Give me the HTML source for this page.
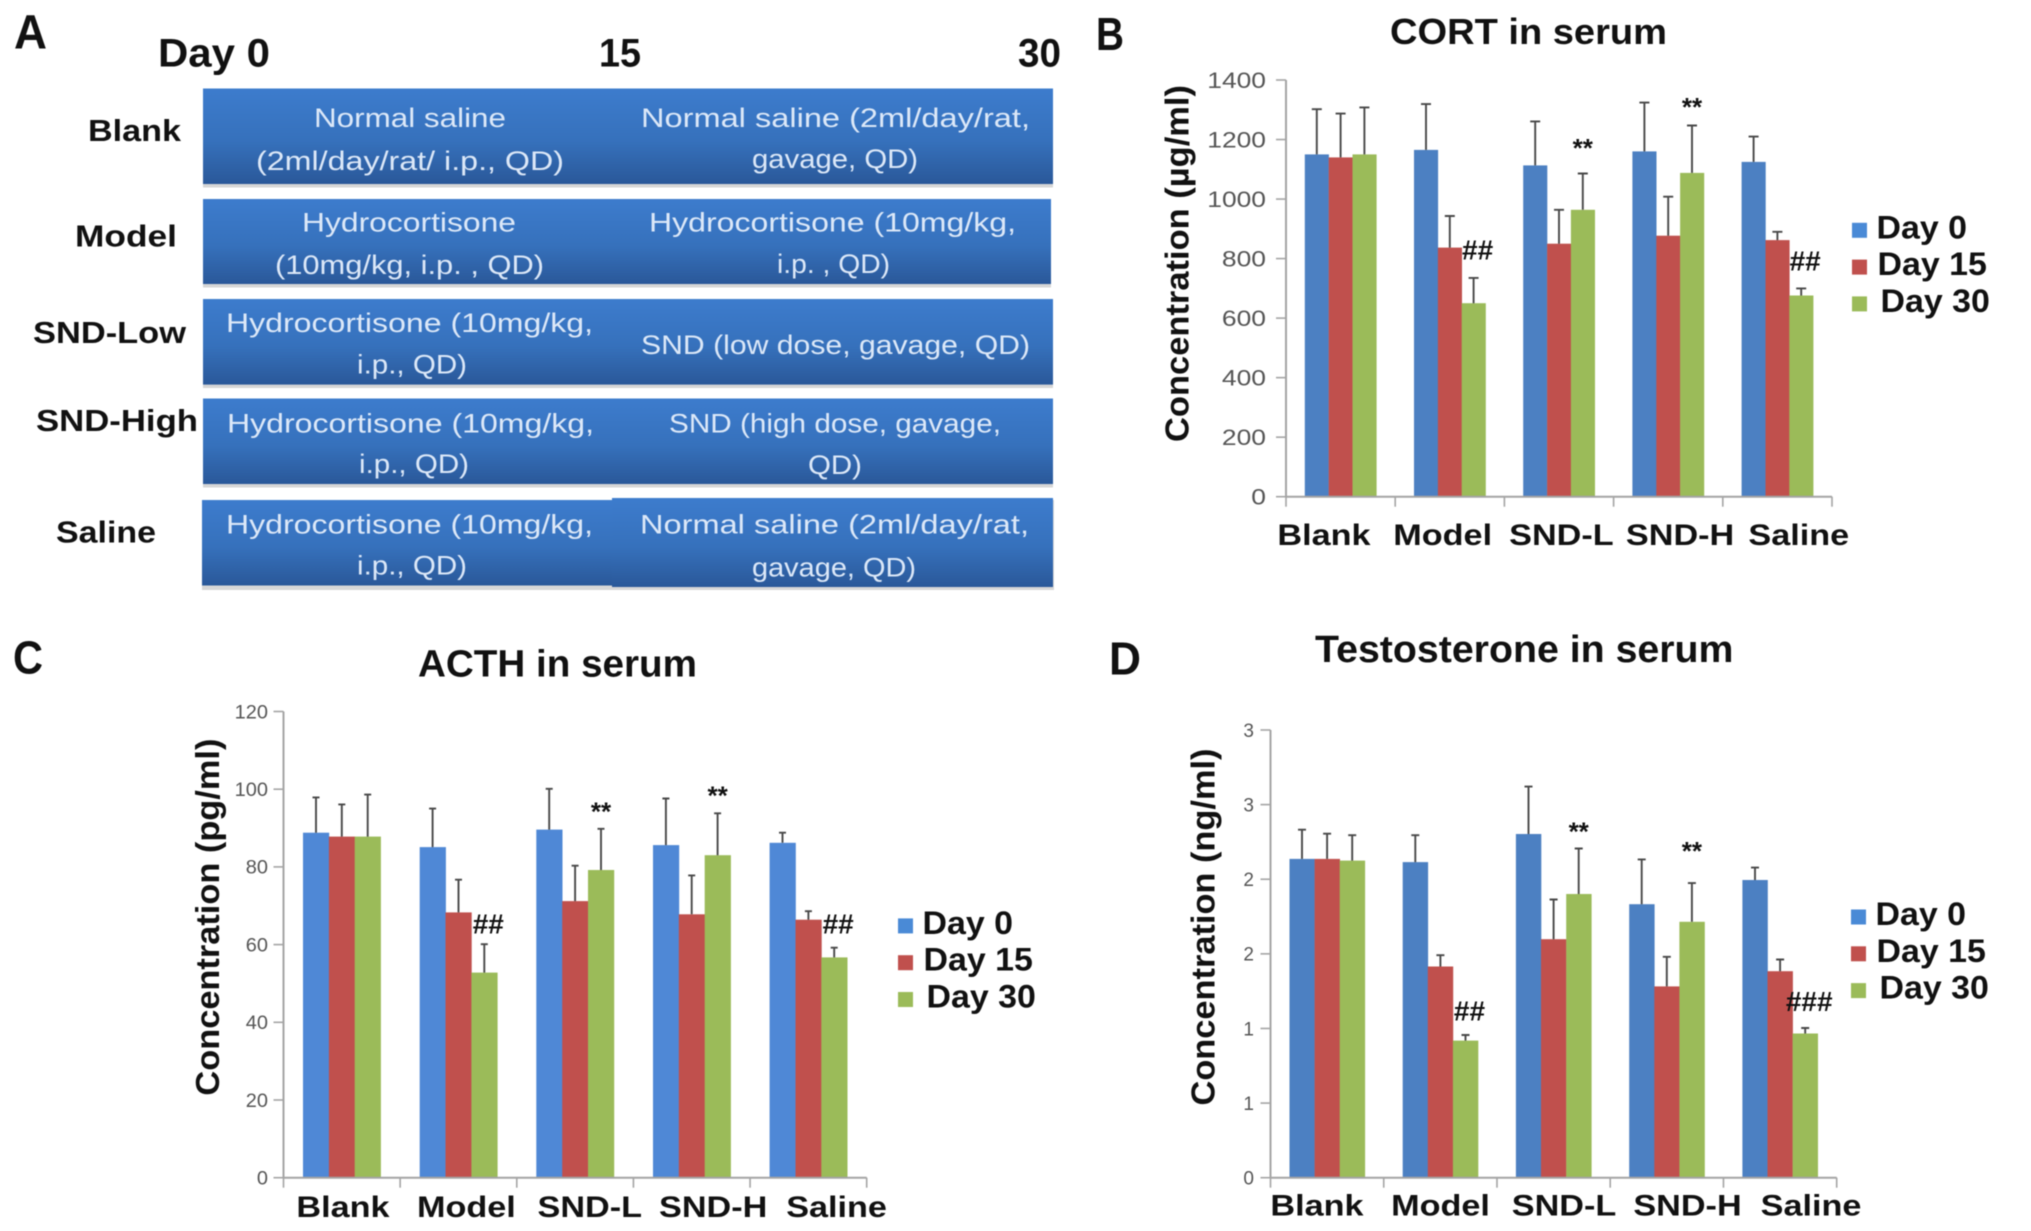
<!DOCTYPE html>
<html lang="en">
<head>
<meta charset="utf-8">
<title>Serum hormone figure</title>
<style>
html,body{margin:0;padding:0;background:#fff;width:2031px;height:1231px;overflow:hidden}
svg{display:block;filter:blur(0.6px)}
text{font-family:"Liberation Sans",sans-serif}
.b{font-weight:bold;fill:#111}
.cell{fill:#dce8f8;font-size:27px}
</style>
</head>
<body>
<svg id="fig" xmlns="http://www.w3.org/2000/svg" width="2031" height="1231" viewBox="0 0 2031 1231">
<defs>
<linearGradient id="cellGrad" x1="0" y1="0" x2="0" y2="1">
<stop offset="0" stop-color="#3d7ccd"/><stop offset="0.55" stop-color="#3671bc"/><stop offset="1" stop-color="#2a5899"/>
</linearGradient>
</defs>
<rect width="2031" height="1231" fill="#fff"/>

<g id="panel-a">
<text class="b" x="14" y="48.7" font-size="48" textLength="33" lengthAdjust="spacingAndGlyphs">A</text>
<text class="b" x="158" y="66.6" font-size="40" textLength="112" lengthAdjust="spacingAndGlyphs">Day 0</text>
<text class="b" x="599" y="66.6" font-size="40" textLength="42" lengthAdjust="spacingAndGlyphs">15</text>
<text class="b" x="1018" y="66.6" font-size="40" textLength="43" lengthAdjust="spacingAndGlyphs">30</text>

<text class="b" x="88" y="141" font-size="31" textLength="93" lengthAdjust="spacingAndGlyphs">Blank</text>
<text class="b" x="75" y="246.5" font-size="31" textLength="102" lengthAdjust="spacingAndGlyphs">Model</text>
<text class="b" x="33" y="343" font-size="31" textLength="153" lengthAdjust="spacingAndGlyphs">SND-Low</text>
<text class="b" x="36" y="431" font-size="31" textLength="162" lengthAdjust="spacingAndGlyphs">SND-High</text>
<text class="b" x="56" y="542.6" font-size="31" textLength="100" lengthAdjust="spacingAndGlyphs">Saline</text>

<g fill="#9a9a9a" opacity="0.4">
<rect x="203" y="88.5" width="850" height="99"/>
<rect x="203" y="199" width="848" height="88.5"/>
<rect x="203" y="299" width="850" height="89"/>
<rect x="203" y="398.5" width="850" height="89"/>
<rect x="202" y="500" width="852" height="90"/>
</g>
<rect x="203" y="88.5" width="413" height="95.5" fill="url(#cellGrad)"/>
<rect x="616" y="88.5" width="437" height="95.5" fill="url(#cellGrad)"/>
<rect x="203" y="199" width="410" height="85" fill="url(#cellGrad)"/>
<rect x="613" y="199" width="438" height="85" fill="url(#cellGrad)"/>
<rect x="203" y="299" width="414" height="85.6" fill="url(#cellGrad)"/>
<rect x="617" y="299" width="436" height="85.6" fill="url(#cellGrad)"/>
<rect x="203" y="398.5" width="416" height="85.5" fill="url(#cellGrad)"/>
<rect x="619" y="398.5" width="434" height="85.5" fill="url(#cellGrad)"/>
<rect x="202" y="500" width="410" height="85.5" fill="url(#cellGrad)"/>
<rect x="612" y="498" width="441" height="89" fill="url(#cellGrad)"/>

<text class="cell" x="314" y="127" textLength="192" lengthAdjust="spacingAndGlyphs">Normal saline</text>
<text class="cell" x="256" y="170" textLength="308" lengthAdjust="spacingAndGlyphs">(2ml/day/rat/ i.p., QD)</text>
<text class="cell" x="641" y="127" textLength="389" lengthAdjust="spacingAndGlyphs">Normal saline (2ml/day/rat,</text>
<text class="cell" x="752" y="168" textLength="166" lengthAdjust="spacingAndGlyphs">gavage, QD)</text>

<text class="cell" x="302" y="231.5" textLength="214" lengthAdjust="spacingAndGlyphs">Hydrocortisone</text>
<text class="cell" x="275" y="274" textLength="269" lengthAdjust="spacingAndGlyphs">(10mg/kg, i.p. , QD)</text>
<text class="cell" x="649" y="231.5" textLength="367" lengthAdjust="spacingAndGlyphs">Hydrocortisone (10mg/kg,</text>
<text class="cell" x="777" y="273" textLength="113" lengthAdjust="spacingAndGlyphs">i.p. , QD)</text>

<text class="cell" x="226" y="332" textLength="367" lengthAdjust="spacingAndGlyphs">Hydrocortisone (10mg/kg,</text>
<text class="cell" x="357" y="373.7" textLength="110" lengthAdjust="spacingAndGlyphs">i.p., QD)</text>
<text class="cell" x="641" y="354" textLength="389" lengthAdjust="spacingAndGlyphs">SND (low dose, gavage, QD)</text>

<text class="cell" x="227" y="432.3" textLength="367" lengthAdjust="spacingAndGlyphs">Hydrocortisone (10mg/kg,</text>
<text class="cell" x="359" y="473" textLength="110" lengthAdjust="spacingAndGlyphs">i.p., QD)</text>
<text class="cell" x="669" y="432.3" textLength="332" lengthAdjust="spacingAndGlyphs">SND (high dose, gavage,</text>
<text class="cell" x="808" y="474" textLength="54" lengthAdjust="spacingAndGlyphs">QD)</text>

<text class="cell" x="226" y="533.7" textLength="367" lengthAdjust="spacingAndGlyphs">Hydrocortisone (10mg/kg,</text>
<text class="cell" x="357" y="574.4" textLength="110" lengthAdjust="spacingAndGlyphs">i.p., QD)</text>
<text class="cell" x="640" y="533.7" textLength="389" lengthAdjust="spacingAndGlyphs">Normal saline (2ml/day/rat,</text>
<text class="cell" x="752" y="576.4" textLength="164" lengthAdjust="spacingAndGlyphs">gavage, QD)</text>
</g>
</svg>

<script>
// ---- shared categories and series ----
const categories = ["Blank", "Model", "SND-L", "SND-H", "Saline"];
const seriesNames = ["Day 0", "Day 15", "Day 30"];

// ---- CORT (panel B) ----
const cortDay0 = [1150, 1165, 1113, 1160, 1125];
const cortDay15 = [1140, 837, 850, 877, 862];
const cortDay30 = [1150, 650, 964, 1088, 676];
const cortDay0Upper = [1302, 1319, 1261, 1324, 1210];
const cortDay15Upper = [1287, 943, 964, 1008, 890];
const cortDay30Upper = [1308, 735, 1086, 1247, 700];
const cortTickValues = [0, 200, 400, 600, 800, 1000, 1200, 1400];
const cortTickLabels = ["0", "200", "400", "600", "800", "1000", "1200", "1400"];
const cortMarks = ["##", "**", "**", "##"];
const cortMarkGroups = [1, 2, 3, 4];
const cortMarkLevels = [797, 1142, 1279, 760];

// ---- ACTH (panel C) ----
const acthDay0 = [88.8, 85.1, 89.6, 85.6, 86.2];
const acthDay15 = [87.8, 68.3, 71.2, 67.8, 66.4];
const acthDay30 = [87.8, 52.8, 79.2, 83, 56.7];
const acthDay0Upper = [97.9, 95, 100.1, 97.6, 88.8];
const acthDay15Upper = [96.1, 76.7, 80.3, 77.8, 68.6];
const acthDay30Upper = [98.6, 60.1, 89.8, 93.8, 59.2];
const acthTickValues = [0, 20, 40, 60, 80, 100, 120];
const acthTickLabels = ["0", "20", "40", "60", "80", "100", "120"];
const acthMarks = ["##", "**", "**", "##"];
const acthMarkGroups = [1, 2, 3, 4];
const acthMarkLevels = [62.9, 92, 96, 62.9];

// ---- Testosterone (panel D) ----
const testoDay0 = [2.136, 2.115, 2.303, 1.833, 1.995];
const testoDay15 = [2.136, 1.415, 1.598, 1.282, 1.384];
const testoDay30 = [2.125, 0.919, 1.901, 1.715, 0.966];
const testoDay0Upper = [2.332, 2.295, 2.621, 2.133, 2.078];
const testoDay15Upper = [2.305, 1.491, 1.864, 1.48, 1.462];
const testoDay30Upper = [2.295, 0.956, 2.206, 1.974, 1.003];
const testoTickValues = [0, 0.5, 1, 1.5, 2, 2.5, 3];
const testoTickLabels = ["0", "1", "1", "2", "2", "3", "3"];
const testoMarks = ["##", "**", "**", "###"];
const testoMarkGroups = [1, 2, 3, 4];
const testoMarkLevels = [1.053, 2.26, 2.13, 1.117];

const redGreen = ["#c0504d", "#9bbb59"];
const svg = document.getElementById("fig");
const NS = "http://www.w3.org/2000/svg";

function add(parent, tag, attrs, content) {
  const node = document.createElementNS(NS, tag);
  for (const k in attrs) node.setAttribute(k, attrs[k]);
  if (content !== undefined) node.textContent = content;
  parent.appendChild(node);
  return node;
}
function stretch(t, factor) {
  t.setAttribute("textLength", (t.getComputedTextLength() * factor).toFixed(1));
  t.setAttribute("lengthAdjust", "spacingAndGlyphs");
}

function drawPanel(p) {
  const g = add(svg, "g", {});
  
  

  const y = v => p.y0 - (v / p.max) * (p.y0 - p.yTop);
  const band = (p.xEnd - p.x0) / categories.length;
  const barW = band * p.groupFrac / 3;
  const barX = (group, s) => p.x0 + band * (group + 0.5) + (s - 1.5) * barW;
  const colors = [p.blue, redGreen[0], redGreen[1]];
  const swatchColors = ["#4a8ad6", redGreen[0], redGreen[1]];

  // panel letter and title
  const letter = add(g, "text", { x: p.letterX, y: p.letterY, "font-size": 46, class: "b", textLength: p.letterW, lengthAdjust: "spacingAndGlyphs" }, p.letter);
  
  
  const title = add(g, "text", { x: p.titleX, y: p.titleY, "font-size": p.titleSize, class: "b", textLength: p.titleW, lengthAdjust: "spacingAndGlyphs" }, p.title);
  
  

  // y axis title
  const yTitle = add(g, "text", { transform: "translate(" + p.yTitleX + "," + p.yTitleBottom + ") rotate(-90)", "font-size": 33, class: "b", fill: "#222", textLength: 357, lengthAdjust: "spacingAndGlyphs" }, p.yTitle);
  
  

  // bars, drawn before axes
  p.series.forEach((values, s) => {
    values.forEach((v, i) => {
      const bar = add(g, "rect", { x: barX(i, s).toFixed(1), y: y(v).toFixed(1), width: (barW + 0.3).toFixed(1), height: (p.y0 - y(v)).toFixed(1), fill: colors[s] });
      
      
    });
  });

  // error bars
  p.uppers.forEach((tops, s) => {
    tops.forEach((top, i) => {
      const cx = barX(i, s) + barW / 2;
      const err = add(g, "path", { d: "M" + cx.toFixed(1) + " " + y(p.series[s][i]).toFixed(1) + "V" + y(top).toFixed(1) + "M" + (cx - p.capHalf).toFixed(1) + " " + y(top).toFixed(1) + "H" + (cx + p.capHalf).toFixed(1), stroke: "#484848", "stroke-width": 1.9, fill: "none" });
      
      
    });
  });

  // axes
  const yAxis = add(g, "line", { x1: p.x0, x2: p.x0, y1: p.yTop, y2: p.y0, stroke: "#a4a4a4", "stroke-width": 2 });
  
  
  const xAxis = add(g, "line", { x1: p.x0, x2: p.xEnd, y1: p.y0, y2: p.y0, stroke: "#a4a4a4", "stroke-width": 2 });
  
  

  p.tickValues.forEach((v, i) => {
    const tick = add(g, "line", { x1: p.x0 - 10, x2: p.x0, y1: y(v), y2: y(v), stroke: "#a4a4a4", "stroke-width": 1.6 });
    
    
    const label = add(g, "text", { x: p.tickLabelX, y: y(v) + p.tickSize * 0.36, "font-size": p.tickSize, "text-anchor": "end", fill: "#555" }, p.tickLabels[i]);
    
    
    stretch(label, p.tickStretch);
  });

  for (let i = 0; i <= categories.length; i++) {
    const xt = p.x0 + band * i;
    const tick = add(g, "line", { x1: xt, x2: xt, y1: p.y0, y2: p.y0 + 10, stroke: "#a4a4a4", "stroke-width": 1.6 });
    
    
  }
  categories.forEach((c, i) => {
    const label = add(g, "text", { x: p.catStart + p.catStep * i, y: p.catY, "font-size": 30, class: "b", "text-anchor": "middle", fill: "#1a1a1a" }, c);
    
    
    stretch(label, 1.14);
  });

  // significance marks
  p.marks.forEach((m, i) => {
    const isHash = m[0] === "#";
    const mx = barX(p.markGroups[i], 2) + barW / 2 + (isHash ? 4 : 0);
    const mark = add(g, "text", { x: mx.toFixed(1), y: y(p.markLevels[i]).toFixed(1), "font-size": isHash ? 28 : 26, class: "b", "text-anchor": "middle" }, m);
    
    
  });

  // legend
  seriesNames.forEach((name, i) => {
    const swatchBottom = p.legendY + p.legendStep * i;
    const swatch = add(g, "rect", { x: p.legendX, y: swatchBottom - 15, width: 15, height: 15, fill: swatchColors[i] });
    
    
    const label = add(g, "text", { x: p.legendX + 24.5 + (i === 2 ? 4 : i === 1 ? 1 : 0), y: swatchBottom + 0.5, "font-size": 32, class: "b" }, name);
    
    
    stretch(label, 1.06);
  });
}

drawPanel({
  id: "cort", letter: "B", letterX: 1096, letterY: 49.8, letterW: 28,
  title: "CORT in serum", titleX: 1390, titleY: 43.8, titleW: 277, titleSize: 36,
  yTitle: "Concentration (\u00b5g/ml)", yTitleX: 1188.7, yTitleBottom: 442,
  x0: 1286, xEnd: 1832, y0: 496.7, yTop: 80, max: 1400, groupFrac: 0.655, blue: "#4c80c2", capHalf: 5,
  series: [cortDay0, cortDay15, cortDay30], uppers: [cortDay0Upper, cortDay15Upper, cortDay30Upper],
  tickValues: cortTickValues, tickLabels: cortTickLabels, tickLabelX: 1266, tickSize: 22, tickStretch: 1.2,
  catStart: 1324, catStep: 118.7, catY: 545,
  marks: cortMarks, markGroups: cortMarkGroups, markLevels: cortMarkLevels,
  legendX: 1852, legendY: 237.8, legendStep: 36.8
});
drawPanel({
  id: "acth", letter: "C", letterX: 13, letterY: 673.7, letterW: 30,
  title: "ACTH in serum", titleX: 418, titleY: 676.7, titleW: 279, titleSize: 38,
  yTitle: "Concentration (pg/ml)", yTitleX: 219, yTitleBottom: 1095.6,
  x0: 283.5, xEnd: 866.7, y0: 1177.7, yTop: 711.5, max: 120, groupFrac: 0.665, blue: "#4f88d6", capHalf: 3.5,
  series: [acthDay0, acthDay15, acthDay30], uppers: [acthDay0Upper, acthDay15Upper, acthDay30Upper],
  tickValues: acthTickValues, tickLabels: acthTickLabels, tickLabelX: 268, tickSize: 19, tickStretch: 1.05,
  catStart: 343, catStep: 123.4, catY: 1217,
  marks: acthMarks, markGroups: acthMarkGroups, markLevels: acthMarkLevels,
  legendX: 898, legendY: 933.4, legendStep: 36.8
});
drawPanel({
  id: "testosterone", letter: "D", letterX: 1109, letterY: 674.7, letterW: 32,
  title: "Testosterone in serum", titleX: 1315, titleY: 661.8, titleW: 418.5, titleSize: 38,
  yTitle: "Concentration (ng/ml)", yTitleX: 1214.5, yTitleBottom: 1105.5,
  x0: 1270.5, xEnd: 1836.7, y0: 1177.7, yTop: 730, max: 3, groupFrac: 0.665, blue: "#4c80c2", capHalf: 4,
  series: [testoDay0, testoDay15, testoDay30], uppers: [testoDay0Upper, testoDay15Upper, testoDay30Upper],
  tickValues: testoTickValues, tickLabels: testoTickLabels, tickLabelX: 1254, tickSize: 19, tickStretch: 1,
  catStart: 1317, catStep: 123.5, catY: 1215.5,
  marks: testoMarks, markGroups: testoMarkGroups, markLevels: testoMarkLevels,
  legendX: 1851, legendY: 924.5, legendStep: 36.8
});
</script>
</body>
</html>
